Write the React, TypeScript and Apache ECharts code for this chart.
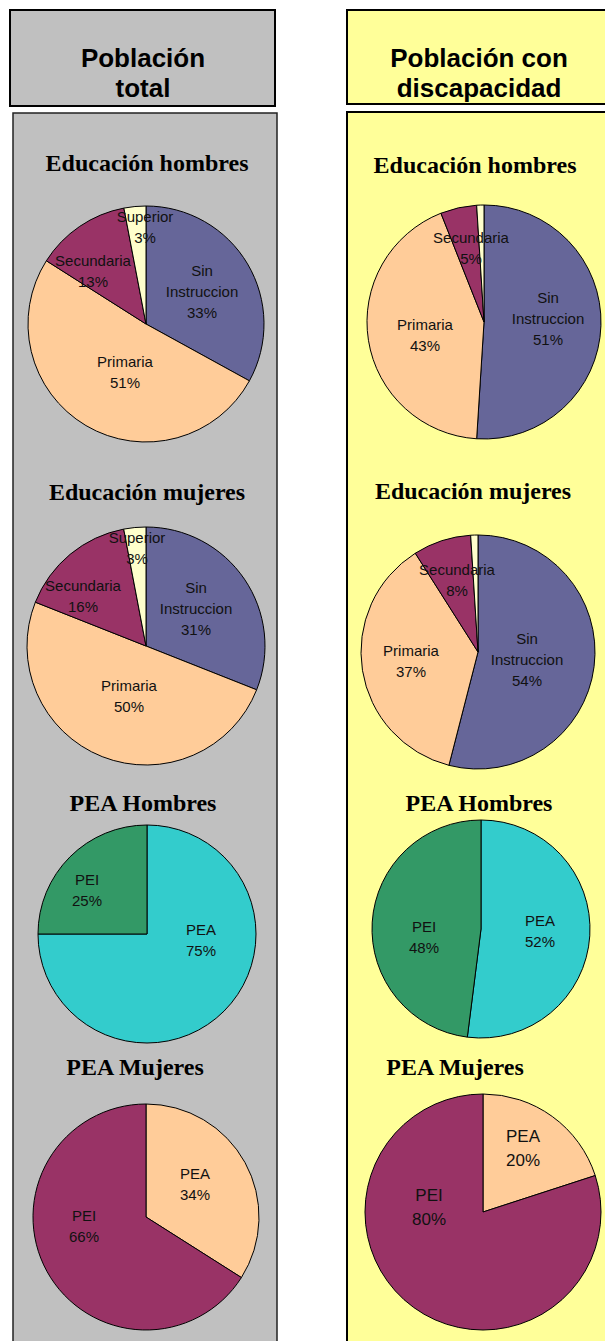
import React, { useEffect, useRef } from 'react';
import * as echarts from 'echarts';

// ---- data ----
const eduCategories = ['Sin\nInstruccion', 'Primaria', 'Secundaria', 'Superior'];
const peaCategories = ['PEA', 'PEI'];

const eduHombresTotal = [33, 51, 13, 3];
const eduMujeresTotal = [31, 50, 16, 3];
const eduHombresDisc = [51, 43, 5, 1];
const eduMujeresDisc = [54, 37, 8, 1];
const peaHombresTotal = [75, 25];
const peaHombresDisc = [52, 48];
const peaMujeresTotal = [34, 66];
const peaMujeresDisc = [20, 80];

const panelHeaders = ['Población\ntotal', 'Población con\ndiscapacidad'];
const chartTitles = ['Educación hombres', 'Educación mujeres', 'PEA Hombres', 'PEA Mujeres'];

// ---- styles ----
const eduColors = ['#666699', '#FFCC99', '#993366', '#FFFFCC'];
const peaHColors = ['#33CCCC', '#339966'];
const peaMColors = ['#FFCC99', '#993366'];

type PieCfg = {
  title: string;
  titleX: number;
  titleY: number;
  cats: string[];
  values: number[];
  colors: string[];
  center: [number, number];
  r: number;
  offsets: [number, number][];
  hide?: number[];
  fontSize?: number;
};

const pies: PieCfg[] = [
  { title: chartTitles[0], titleX: 147, titleY: 163, cats: eduCategories, values: eduHombresTotal, colors: eduColors, center: [146, 324], r: 118,
    offsets: [[56, -33], [-21, 48], [-53, -53], [-1, -97]] },
  { title: chartTitles[1], titleX: 147, titleY: 492, cats: eduCategories, values: eduMujeresTotal, colors: eduColors, center: [146, 646], r: 119,
    offsets: [[50, -38], [-17, 50], [-63, -50], [-9, -98]] },
  { title: chartTitles[2], titleX: 143, titleY: 803, cats: peaCategories, values: peaHombresTotal, colors: peaHColors, center: [147, 934], r: 109,
    offsets: [[54, 6], [-60, -44]] },
  { title: chartTitles[3], titleX: 135, titleY: 1067, cats: peaCategories, values: peaMujeresTotal, colors: peaMColors, center: [146, 1217], r: 113,
    offsets: [[49, -33], [-62, 9]] },
  { title: chartTitles[0], titleX: 475, titleY: 165, cats: eduCategories, values: eduHombresDisc, colors: eduColors, center: [484, 322], r: 117,
    offsets: [[64, -4], [-59, 13], [-13, -74], [0, 0]], hide: [3] },
  { title: chartTitles[1], titleX: 473, titleY: 491, cats: eduCategories, values: eduMujeresDisc, colors: eduColors, center: [478, 652], r: 117,
    offsets: [[49, 7], [-67, 9], [-21, -72], [0, 0]], hide: [3] },
  { title: chartTitles[2], titleX: 479, titleY: 803, cats: peaCategories, values: peaHombresDisc, colors: peaHColors, center: [481, 929], r: 109,
    offsets: [[59, 2], [-57, 8]] },
  { title: chartTitles[3], titleX: 455, titleY: 1067, cats: peaCategories, values: peaMujeresDisc, colors: peaMColors, center: [483, 1212], r: 118,
    offsets: [[40, -64], [-54, -5]], fontSize: 17 },
];

export default function App() {
  const ref = useRef<HTMLDivElement>(null);
  useEffect(() => {
    if (!ref.current) return;
    const chart = echarts.init(ref.current, null, { renderer: 'svg' });

    const graphic: any[] = [
      // panels
      { type: 'rect', z: 0, shape: { x: 13, y: 113, width: 264, height: 1240 }, style: { fill: '#C0C0C0', stroke: '#222', lineWidth: 1.5 } },
      { type: 'rect', z: 0, shape: { x: 347, y: 112, width: 270, height: 1240 }, style: { fill: '#FFFF99', stroke: '#000', lineWidth: 2 } },
      // headers
      { type: 'rect', z: 0, shape: { x: 10, y: 10, width: 265, height: 96 }, style: { fill: '#C0C0C0', stroke: '#000', lineWidth: 2 } },
      { type: 'rect', z: 0, shape: { x: 347, y: 10, width: 270, height: 94 }, style: { fill: '#FFFF99', stroke: '#000', lineWidth: 2 } },
      { type: 'text', z: 10, x: 143, y: 73, style: { text: panelHeaders[0], align: 'center', verticalAlign: 'middle', fontFamily: 'Liberation Sans, Arial, sans-serif', fontWeight: 'bold', fontSize: 26, lineHeight: 30, fill: '#000' } },
      { type: 'text', z: 10, x: 479, y: 73, style: { text: panelHeaders[1], align: 'center', verticalAlign: 'middle', fontFamily: 'Liberation Sans, Arial, sans-serif', fontWeight: 'bold', fontSize: 26, lineHeight: 30, fill: '#000' } },
    ];
    pies.forEach((p) => {
      graphic.push({ type: 'text', z: 10, x: p.titleX, y: p.titleY, style: { text: p.title, align: 'center', verticalAlign: 'middle', fontFamily: 'Liberation Serif, Times New Roman, serif', fontWeight: 'bold', fontSize: 24, fill: '#000' } });
    });

    const series = pies.map((p) => ({
      type: 'pie',
      center: p.center,
      radius: p.r,
      startAngle: 90,
      clockwise: true,
      avoidLabelOverlap: false,
      minAngle: 0,
      itemStyle: { borderColor: '#000', borderWidth: 1 },
      emphasis: { disabled: true },
      label: {
        show: true,
        position: 'inside',
        color: '#111',
        fontFamily: 'Liberation Sans, Arial, sans-serif',
        fontSize: p.fontSize || 15,
        lineHeight: p.fontSize ? p.fontSize + 7 : 21,
        align: 'center',
        formatter: (prm: any) => `${prm.name}\n${prm.value}%`,
      },
      labelLine: { show: false },
      labelLayout: (prm: any) => {
        const off = p.offsets[prm.dataIndex] || [0, 0];
        return { x: p.center[0] + off[0], y: p.center[1] + off[1], align: 'center', verticalAlign: 'middle' };
      },
      data: p.values.map((v, i) => ({
        name: p.cats[i],
        value: v,
        itemStyle: { color: p.colors[i] },
        label: p.hide && p.hide.includes(i) ? { show: false } : undefined,
      })),
    }));

    chart.setOption({
      animation: false,
      backgroundColor: '#FFFFFF',
      graphic,
      series,
    });
    return () => chart.dispose();
  }, []);
  return <div ref={ref} style={{ position: 'absolute', left: 0, top: 0, width: 605, height: 1341 }} />;
}
